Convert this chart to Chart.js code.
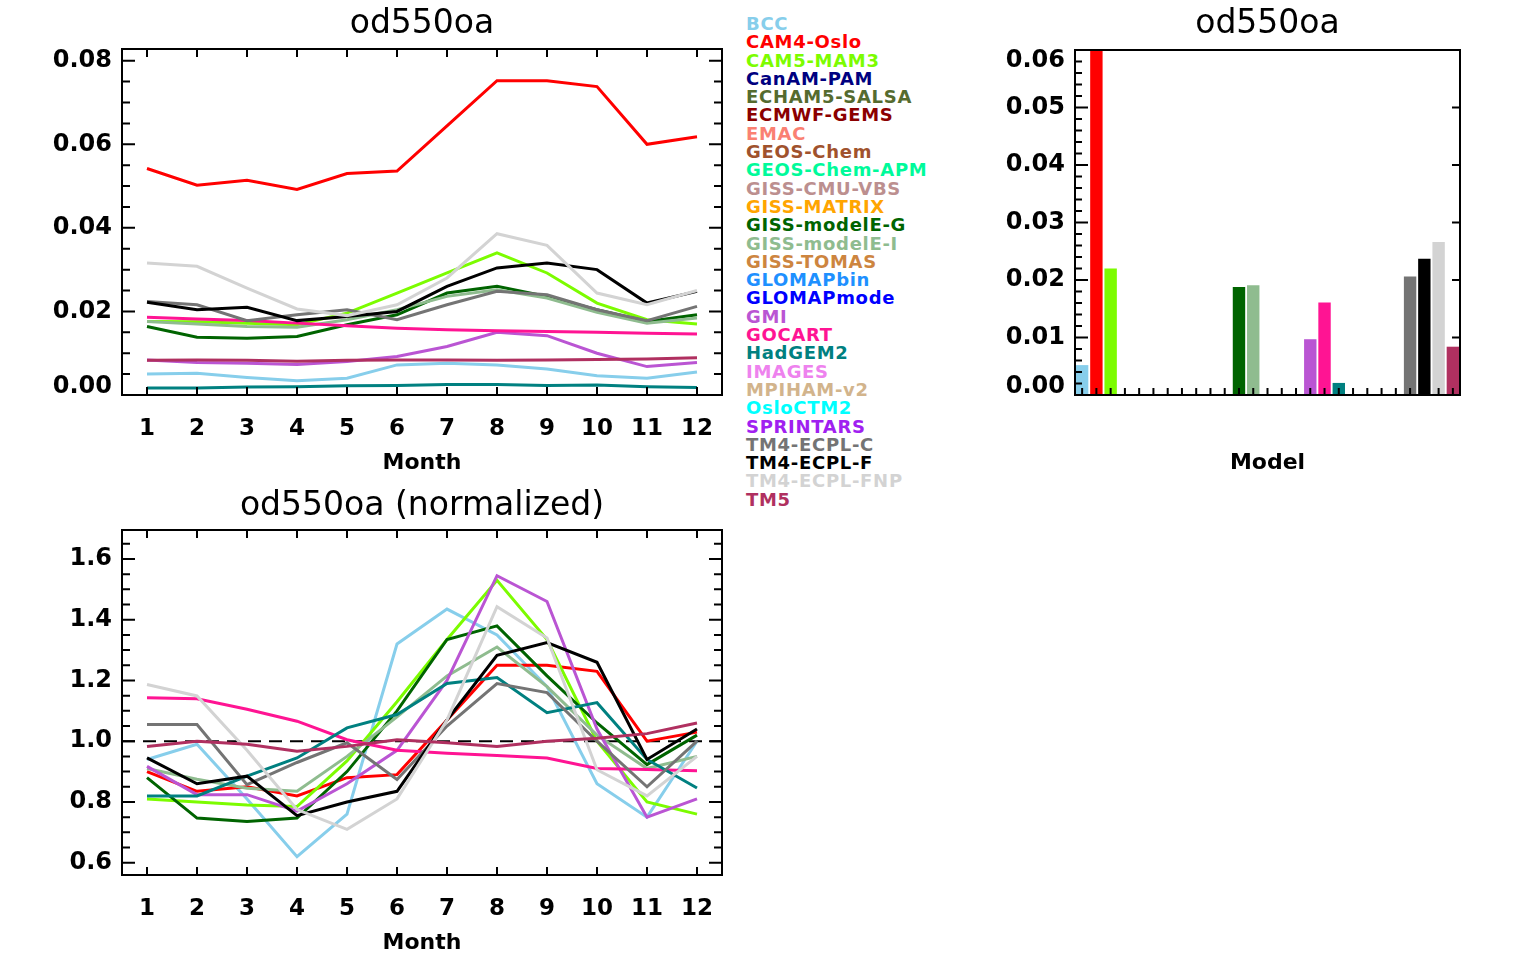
<!DOCTYPE html>
<html>
<head>
<meta charset="utf-8">
<script src="https://cdn.jsdelivr.net/npm/chart.js@4/dist/chart.umd.min.js"></script>
<style>
  html, body { margin: 0; padding: 0; background: #fff; overflow: hidden; }
  body { width: 1529px; height: 959px; position: relative; }
  canvas { position: absolute; }
  #legend { position: absolute; left: 746px; top: 15px; font: bold 18px "DejaVu Sans", sans-serif; letter-spacing: 0.7px; }
  #legend div { height: 18.3px; line-height: 18.3px; white-space: nowrap; }
</style>
</head>
<body>
<canvas id="monthly" width="740" height="480" style="left:0;top:0"></canvas>
<canvas id="means" width="576" height="480" style="left:953px;top:0"></canvas>
<canvas id="normalized" width="740" height="480" style="left:0;top:480px"></canvas>
<div id="legend"></div>
<script>
// ---- models and their colours ----
const models = ['BCC', 'CAM4-Oslo', 'CAM5-MAM3', 'CanAM-PAM', 'ECHAM5-SALSA', 'ECMWF-GEMS', 'EMAC',
  'GEOS-Chem', 'GEOS-Chem-APM', 'GISS-CMU-VBS', 'GISS-MATRIX', 'GISS-modelE-G', 'GISS-modelE-I',
  'GISS-TOMAS', 'GLOMAPbin', 'GLOMAPmode', 'GMI', 'GOCART', 'HadGEM2', 'IMAGES', 'MPIHAM-v2',
  'OsloCTM2', 'SPRINTARS', 'TM4-ECPL-C', 'TM4-ECPL-F', 'TM4-ECPL-FNP', 'TM5'];
const modelColors = ['#87CEEB', '#FF0000', '#7CFC00', '#000080', '#556B2F', '#8B0000', '#FA8072',
  '#A0522D', '#00FA9A', '#BC8F8F', '#FFA500', '#006400', '#8FBC8F',
  '#CD853F', '#1E90FF', '#0000FF', '#BA55D3', '#FF1493', '#008080', '#EE82EE', '#D2B48C',
  '#00FFFF', '#A020F0', '#747474', '#000000', '#D3D3D3', '#B03060'];

const months = ['1', '2', '3', '4', '5', '6', '7', '8', '9', '10', '11', '12'];

// ---- monthly od550oa ----
const bcc    = [0.0050, 0.0052, 0.0042, 0.0034, 0.0040, 0.0072, 0.0076, 0.0072, 0.0062, 0.0046, 0.0040, 0.0055];
const cam4   = [0.0542, 0.0502, 0.0514, 0.0492, 0.0530, 0.0536, 0.0644, 0.0752, 0.0752, 0.0738, 0.0600, 0.0618];
const cam5   = [0.0176, 0.0175, 0.0172, 0.0168, 0.0196, 0.0244, 0.0292, 0.0340, 0.0292, 0.0220, 0.0180, 0.0170];
const gissG  = [0.0164, 0.0138, 0.0136, 0.0140, 0.0168, 0.0192, 0.0244, 0.0260, 0.0236, 0.0204, 0.0176, 0.0192];
const gissI  = [0.0176, 0.0170, 0.0164, 0.0162, 0.0180, 0.0204, 0.0236, 0.0252, 0.0232, 0.0198, 0.0172, 0.0184];
const gmi    = [0.0084, 0.0078, 0.0076, 0.0073, 0.0080, 0.0092, 0.0116, 0.0150, 0.0142, 0.0100, 0.0068, 0.0078];
const gocart = [0.0186, 0.0182, 0.0178, 0.0172, 0.0166, 0.0160, 0.0156, 0.0154, 0.0152, 0.0150, 0.0148, 0.0146];
const hadgem = [0.0017, 0.0017, 0.0019, 0.0020, 0.0022, 0.0023, 0.0025, 0.0025, 0.0023, 0.0024, 0.0020, 0.0018];
const tm4c   = [0.0224, 0.0216, 0.0178, 0.0192, 0.0204, 0.0180, 0.0216, 0.0248, 0.0240, 0.0204, 0.0178, 0.0212];
const tm4f   = [0.0222, 0.0204, 0.0210, 0.0178, 0.0188, 0.0200, 0.0260, 0.0304, 0.0316, 0.0300, 0.0220, 0.0248];
const tm4fnp = [0.0316, 0.0308, 0.0256, 0.0206, 0.0190, 0.0216, 0.0280, 0.0386, 0.0358, 0.0244, 0.0216, 0.0250];
const tm5    = [0.0083, 0.0084, 0.0083, 0.0081, 0.0083, 0.0084, 0.0084, 0.0083, 0.0084, 0.0085, 0.0086, 0.0089];

// ---- monthly od550oa divided by each model's annual mean ----
const bccN    = [0.94, 0.99, 0.81, 0.62, 0.76, 1.32, 1.435, 1.35, 1.18, 0.86, 0.75, 1.00];
const cam4N   = [0.90, 0.835, 0.85, 0.82, 0.88, 0.89, 1.07, 1.25, 1.25, 1.23, 1.00, 1.03];
const cam5N   = [0.81, 0.80, 0.79, 0.785, 0.935, 1.13, 1.335, 1.53, 1.335, 1.00, 0.80, 0.76];
const gissGN  = [0.88, 0.747, 0.736, 0.747, 0.90, 1.10, 1.335, 1.38, 1.215, 1.06, 0.923, 1.02];
const gissIN  = [0.91, 0.875, 0.845, 0.835, 0.95, 1.08, 1.215, 1.31, 1.18, 1.02, 0.91, 0.95];
const gmiN    = [0.917, 0.824, 0.824, 0.77, 0.86, 0.97, 1.20, 1.545, 1.46, 1.04, 0.75, 0.81];
const gocartN = [1.143, 1.14, 1.105, 1.066, 1.005, 0.97, 0.96, 0.953, 0.945, 0.91, 0.907, 0.903];
const hadgemN = [0.82, 0.82, 0.885, 0.945, 1.044, 1.088, 1.19, 1.21, 1.094, 1.127, 0.94, 0.846];
const tm4cN   = [1.055, 1.055, 0.857, 0.93, 0.995, 0.874, 1.05, 1.19, 1.16, 1.00, 0.85, 1.00];
const tm4fN   = [0.945, 0.86, 0.885, 0.755, 0.80, 0.835, 1.07, 1.283, 1.325, 1.26, 0.94, 1.04];
const tm4fnpN = [1.187, 1.149, 0.97, 0.775, 0.71, 0.81, 1.07, 1.443, 1.34, 0.906, 0.82, 0.95];
const tm5N    = [0.983, 1.00, 0.99, 0.967, 0.983, 1.005, 0.995, 0.983, 1.00, 1.01, 1.025, 1.06];

// ---- annual mean od550oa per model (null: no data) ----
const annualMean = [0.0052, 0.0602, 0.0220, null, null, null, null, null, null, null, null, 0.0188, 0.0191,
  null, null, null, 0.0097, 0.0161, 0.0021, null, null, null, null, 0.0206, 0.0237, 0.0266, 0.0084];

// which models have monthly series
const monthlySeries = [
  ['BCC', bcc, bccN], ['CAM4-Oslo', cam4, cam4N], ['CAM5-MAM3', cam5, cam5N],
  ['GISS-modelE-G', gissG, gissGN], ['GISS-modelE-I', gissI, gissIN], ['GMI', gmi, gmiN],
  ['GOCART', gocart, gocartN], ['HadGEM2', hadgem, hadgemN], ['TM4-ECPL-C', tm4c, tm4cN],
  ['TM4-ECPL-F', tm4f, tm4fN], ['TM4-ECPL-FNP', tm4fnp, tm4fnpN], ['TM5', tm5, tm5N]
];

Chart.defaults.font.family = "'DejaVu Sans', sans-serif";
Chart.defaults.color = '#000';

// Boxed frame with inward tick marks, value labels kept inside the box height,
// and an optional dashed reference line.
const idlFrame = {
  id: 'idlFrame',
  beforeDatasetsDraw(chart, args, o) {
    if (o.refLine === undefined || o.refLine === null) return;
    const { ctx, chartArea: a } = chart;
    const py = chart.scales.y.getPixelForValue(o.refLine);
    ctx.save();
    ctx.strokeStyle = '#000';
    ctx.lineWidth = 2;
    ctx.setLineDash([13, 8]);
    ctx.beginPath();
    ctx.moveTo(a.left, py);
    ctx.lineTo(a.right, py);
    ctx.stroke();
    ctx.restore();
  },
  afterDatasetsDraw(chart, args, o) {
    const { ctx, chartArea: a } = chart;
    const x = chart.scales.x, y = chart.scales.y;
    ctx.save();
    ctx.strokeStyle = '#000';
    ctx.lineWidth = 2;
    ctx.beginPath();
    const nx = x.getLabels().length;
    for (let i = 0; i < nx; i++) {
      const px = x.getPixelForValue(i);
      if (o.xBottom) { ctx.moveTo(px, a.bottom); ctx.lineTo(px, a.bottom - o.xBottom); }
      if (o.xTop) { ctx.moveTo(px, a.top); ctx.lineTo(px, a.top + o.xTop); }
    }
    const k0 = Math.ceil(y.min / o.yMinor - 1e-6), k1 = Math.floor(y.max / o.yMinor + 1e-6);
    for (let k = k0; k <= k1; k++) {
      const v = k * o.yMinor;
      const r = v / o.yMajor;
      const major = Math.abs(r - Math.round(r)) < 1e-6;
      const py = y.getPixelForValue(v);
      const l = major ? o.leftMajor : o.leftMinor;
      if (l) { ctx.moveTo(a.left, py); ctx.lineTo(a.left + l, py); }
      const rl = major ? o.rightMajor : o.rightMinor;
      if (rl) { ctx.moveTo(a.right, py); ctx.lineTo(a.right - rl, py); }
    }
    ctx.stroke();
    ctx.strokeRect(a.left, a.top, a.right - a.left, a.bottom - a.top);

    // value-axis labels from the scale's own ticks
    ctx.fillStyle = '#000';
    ctx.font = "bold 24px 'DejaVu Sans', sans-serif";
    ctx.textAlign = 'right';
    ctx.textBaseline = 'middle';
    y.ticks.forEach(t => {
      let py = y.getPixelForValue(t.value);
      py = Math.min(Math.max(py, a.top + 11), a.bottom - 8);
      ctx.fillText(Number(t.value).toFixed(o.decimals), a.left - 10, py);
    });
    ctx.restore();
  }
};

function titleOpts(text, padTop, padBottom) {
  return {
    display: true, text, fullSize: false, color: '#000',
    font: { size: 33, weight: 'normal' },
    padding: { top: padTop, bottom: padBottom }
  };
}
function axisTitle(text) {
  return { display: true, text, color: '#000', font: { size: 22, weight: 'bold' }, padding: { top: 0, bottom: 4 } };
}

function lineChart(id, title, pick, yMin, yMax, yStep, yMinor, decimals, refLine, padTop, padBottom) {
  const n = monthlySeries.length;
  const datasets = monthlySeries.map(([name, v, vn], i) => ({
    label: name,
    data: pick === 0 ? v : vn,
    borderColor: modelColors[models.indexOf(name)],
    backgroundColor: modelColors[models.indexOf(name)],
    borderWidth: 3,
    pointRadius: 0,
    tension: 0,
    fill: false,
    order: n - i
  }));
  return new Chart(document.getElementById(id), {
    type: 'line',
    data: { labels: months, datasets },
    plugins: [idlFrame],
    options: {
      responsive: false, animation: false, devicePixelRatio: 1,
      layout: { padding: { left: 0, right: 18, top: 0, bottom: 0 } },
      plugins: {
        legend: { display: false }, tooltip: { enabled: false },
        title: titleOpts(title, padTop, padBottom),
        idlFrame: { xBottom: 8, xTop: 8, yMinor, yMajor: yStep, leftMajor: 13, leftMinor: 8,
                    rightMajor: 13, rightMinor: 8, refLine, decimals }
      },
      scales: {
        x: {
          type: 'category', offset: true,
          grid: { display: false, drawTicks: false }, border: { display: false },
          ticks: { font: { size: 23, weight: 'bold' }, padding: 20, maxRotation: 0, autoSkip: false, color: '#000' },
          title: axisTitle('Month'),
          afterFit: s => { s.height = 85; }
        },
        y: {
          min: yMin, max: yMax,
          grid: { display: false, drawTicks: false }, border: { display: false },
          ticks: { display: false, stepSize: yStep, includeBounds: false },
          afterFit: s => { s.width = 122; }
        }
      }
    }
  });
}

lineChart('monthly', 'od550oa', 0, 0, 0.0828, 0.02, 0.005, 2, null, 5, 4.4);
lineChart('normalized', 'od550oa (normalized)', 1, 0.5595, 1.6955, 0.2, 0.05, 1, 1.0, 7, 3.4);

new Chart(document.getElementById('means'), {
  type: 'bar',
  data: {
    labels: models,
    datasets: [{ label: 'od550oa', data: annualMean, backgroundColor: modelColors, borderWidth: 0,
                 barPercentage: 0.87, categoryPercentage: 1.0 }]
  },
  plugins: [idlFrame],
  options: {
    responsive: false, animation: false, devicePixelRatio: 1,
    layout: { padding: { left: 0, right: 69, top: 0, bottom: 0 } },
    plugins: {
      legend: { display: false }, tooltip: { enabled: false },
      title: titleOpts('od550oa', 5, 5.4),
      idlFrame: { xBottom: 7, xTop: 0, yMinor: 0.002, yMajor: 0.01, leftMajor: 13, leftMinor: 7,
                  rightMajor: 8, rightMinor: 0, decimals: 2 }
    },
    scales: {
      x: {
        grid: { display: false, drawTicks: false }, border: { display: false },
        ticks: { display: false },
        title: axisTitle('Model'),
        afterFit: s => { s.height = 85; }
      },
      y: {
        min: 0, max: 0.06,
        grid: { display: false, drawTicks: false }, border: { display: false },
        ticks: { display: false, stepSize: 0.01 },
        afterFit: s => { s.width = 122; }
      }
    }
  }
});

// colour-coded model list
const legend = document.getElementById('legend');
models.forEach((m, i) => {
  const d = document.createElement('div');
  d.textContent = m;
  d.style.color = modelColors[i];
  legend.appendChild(d);
});
</script>
</body>
</html>
